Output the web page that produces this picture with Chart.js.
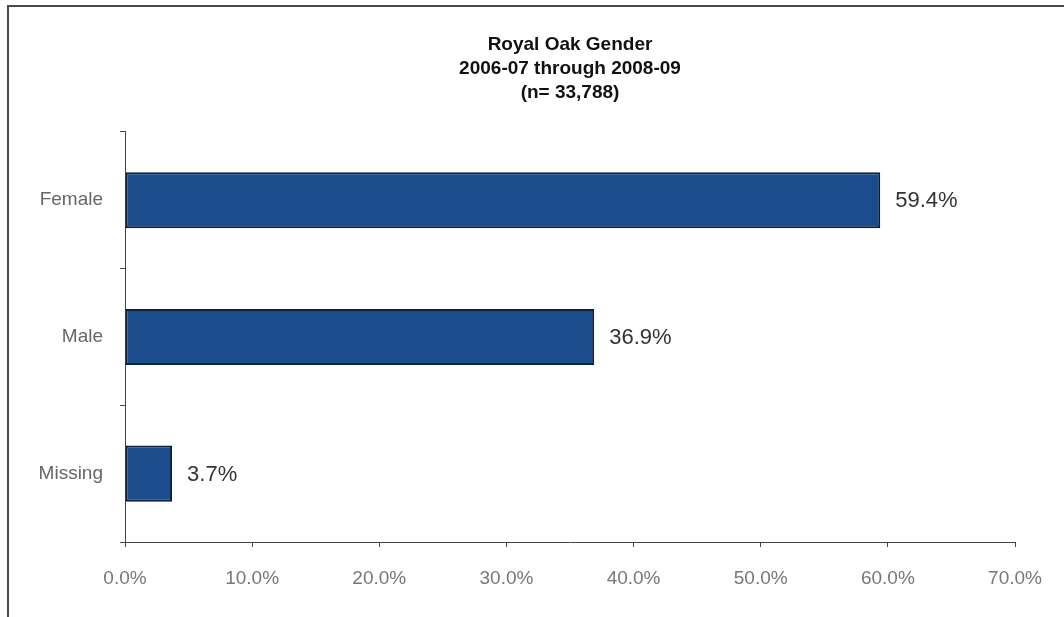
<!DOCTYPE html>
<html>
<head>
<meta charset="utf-8">
<script src="https://cdn.jsdelivr.net/npm/chart.js@4"></script>
<style>
  html, body { margin: 0; padding: 0; background: #fff; }
  #wrap { position: relative; width: 1064px; height: 617px; overflow: hidden; }
  #frame {
    position: absolute; left: 7px; top: 5px; right: -4px; bottom: -4px;
    border-top: 2px solid #4a4a4a; border-left: 2px solid #4a4a4a;
  }
  canvas { position: absolute; left: 0; top: 0; }
</style>
</head>
<body>
<div id="wrap">
  <div id="frame"></div>
  <canvas id="grafico" width="1064" height="617"></canvas>
</div>
<script>
const categorias = ['Female', 'Male', 'Missing']
const valores = [59.4, 36.9, 3.7]
const tituloLinhas = ['Royal Oak Gender', '2006-07 through 2008-09', '(n= 33,788)']
const eixoMin = 0
const eixoMax = 70
const eixoPasso = 10

const fonte = '"Liberation Sans", Arial, sans-serif'

// rótulos no fim das barras
const rotulosBarras = {
  id: 'rotulosBarras',
  afterDatasetsDraw(chart) {
    const ctx = chart.ctx
    const meta = chart.getDatasetMeta(0)
    ctx.save()
    ctx.font = '22px ' + fonte
    ctx.fillStyle = '#333'
    ctx.textAlign = 'left'
    ctx.textBaseline = 'middle'
    meta.data.forEach((barra, i) => {
      ctx.fillText(valores[i].toFixed(1) + '%', barra.x + 15, barra.y + 1)
    })
    ctx.restore()
  }
}

new Chart(document.getElementById('grafico'), {
  type: 'bar',
  data: {
    labels: categorias,
    datasets: [{
      data: valores,
      backgroundColor: '#1b4d8e',
      borderColor: '#0b2140',
      borderWidth: 2,
      borderSkipped: false,
      barPercentage: 0.41,
      categoryPercentage: 1
    }]
  },
  options: {
    indexAxis: 'y',
    responsive: false,
    animation: false,
    layout: { padding: { left: 0, right: 49, top: 0, bottom: 0 } },
    plugins: {
      legend: { display: false },
      tooltip: { enabled: false },
      title: {
        display: true,
        fullSize: false,
        text: tituloLinhas,
        color: '#111',
        font: { family: fonte, size: 19, weight: 'bold', lineHeight: 1.26 },
        padding: { top: 33, bottom: 27 }
      }
    },
    scales: {
      x: {
        min: eixoMin,
        max: eixoMax,
        afterFit(scale) { scale.height = 75 },
        border: { color: '#444', width: 1 },
        grid: { drawOnChartArea: false, drawTicks: true, tickLength: 5, color: '#444' },
        ticks: {
          stepSize: eixoPasso,
          padding: 20,
          color: '#777',
          font: { family: fonte, size: 19 },
          callback: (v) => v.toFixed(1) + '%'
        }
      },
      y: {
        afterFit(scale) { scale.width = 125 },
        border: { color: '#444', width: 1 },
        grid: { drawOnChartArea: false, drawTicks: true, tickLength: 5, color: '#444', offset: true },
        ticks: {
          padding: 17,
          color: '#666',
          font: { family: fonte, size: 19 }
        }
      }
    }
  },
  plugins: [rotulosBarras]
})
</script>
</body>
</html>
